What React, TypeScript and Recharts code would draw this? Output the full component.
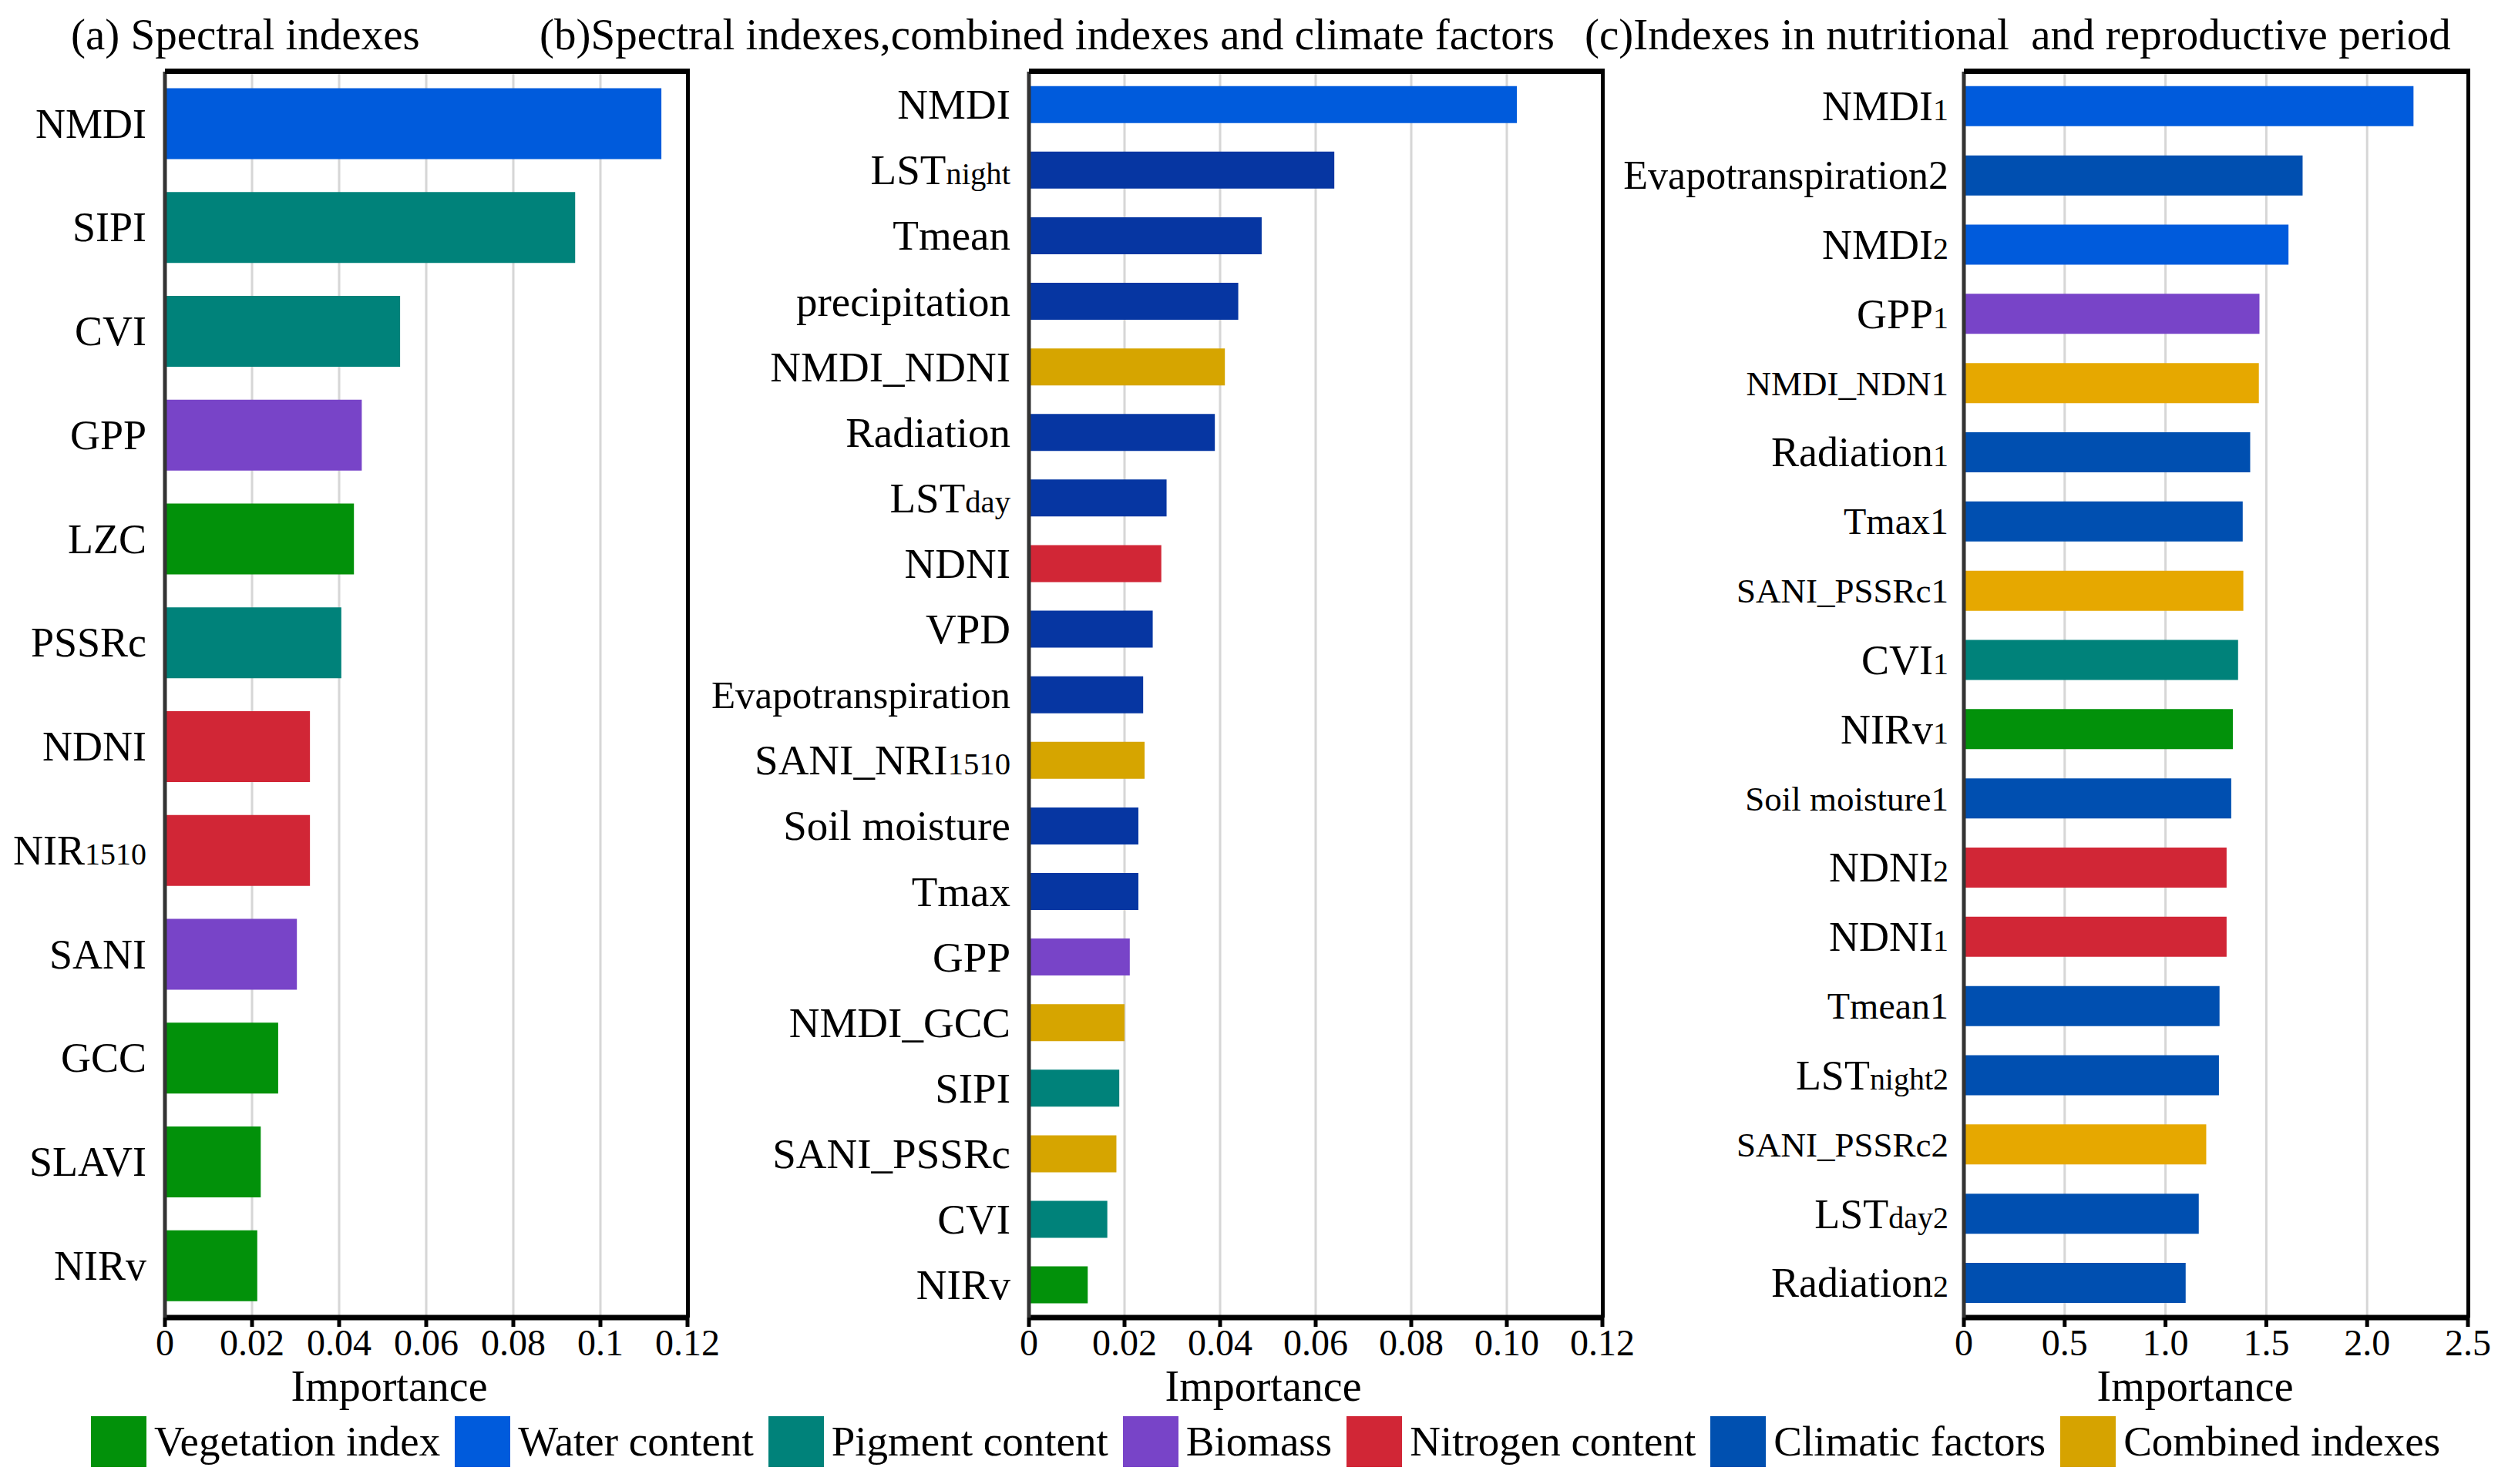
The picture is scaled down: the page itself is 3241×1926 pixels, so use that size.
import { BarChart, Bar, XAxis, YAxis, CartesianGrid, Cell } from 'recharts';

// "|" marks the part of a label that is drawn smaller (subscript style)
const aLabels = ['NMDI', 'SIPI', 'CVI', 'GPP', 'LZC', 'PSSRc', 'NDNI', 'NIR|1510', 'SANI', 'GCC', 'SLAVI', 'NIRv'];
const aValues = [0.114, 0.0942, 0.054, 0.0452, 0.0434, 0.0405, 0.0333, 0.0333, 0.0303, 0.026, 0.022, 0.0212];
const aGroups = ['water', 'pigment', 'pigment', 'biomass', 'veg', 'pigment', 'nitrogen', 'nitrogen', 'biomass', 'veg', 'veg', 'veg'];

const bLabels = [
    'NMDI', 'LST|night', 'Tmean', 'precipitation', 'NMDI_NDNI', 'Radiation', 'LST|day', 'NDNI', 'VPD',
    'Evapotranspiration', 'SANI_NRI|1510', 'Soil moisture', 'Tmax', 'GPP', 'NMDI_GCC', 'SIPI', 'SANI_PSSRc', 'CVI', 'NIRv',
];
const bValues = [0.1021, 0.0639, 0.0487, 0.0438, 0.041, 0.0389, 0.0288, 0.0277, 0.0259, 0.0239, 0.0242, 0.0229, 0.0229, 0.0211, 0.02, 0.0189, 0.0183, 0.0164, 0.0123];
const bGroups = [
    'water', 'climate', 'climate', 'climate', 'combined', 'climate', 'climate', 'nitrogen', 'climate',
    'climate', 'combined', 'climate', 'climate', 'biomass', 'combined', 'pigment', 'combined', 'pigment', 'veg',
];

const cLabels = [
    'NMDI|1', 'Evapotranspiration2', 'NMDI|2', 'GPP|1', 'NMDI_NDN1', 'Radiation|1', 'Tmax1', 'SANI_PSSRc1', 'CVI|1',
    'NIRv|1', 'Soil moisture1', 'NDNI|2', 'NDNI|1', 'Tmean1', 'LST|night2', 'SANI_PSSRc2', 'LST|day2', 'Radiation|2',
];
const cValues = [2.23, 1.68, 1.61, 1.466, 1.463, 1.42, 1.383, 1.386, 1.36, 1.334, 1.326, 1.303, 1.303, 1.268, 1.265, 1.202, 1.165, 1.1];
const cGroups = [
    'water', 'climate', 'water', 'biomass', 'combined', 'climate', 'climate', 'combined', 'pigment',
    'veg', 'climate', 'nitrogen', 'nitrogen', 'climate', 'climate', 'combined', 'climate', 'climate',
];

const ticksSmall = [0, 0.02, 0.04, 0.06, 0.08, 0.1, 0.12];
const ticksLarge = [0, 0.5, 1.0, 1.5, 2.0, 2.5];

const legendKeys = ['veg', 'water', 'pigment', 'biomass', 'nitrogen', 'climate', 'combined'];
const legendLabels = ['Vegetation index', 'Water content', 'Pigment content', 'Biomass', 'Nitrogen content', 'Climatic factors', 'Combined indexes'];

const COLORS: Record<string, string> = {
    veg: '#02910A',
    water: '#005BDC',
    pigment: '#00827A',
    biomass: '#7844C8',
    nitrogen: '#D12636',
    climate: '#0050B0',
    combined: '#D6A300',
};

const FONT = '"Liberation Serif", "Times New Roman", serif';

const toRows = (labels: string[], values: number[], groups: string[]) =>
    labels.map((name, i) => ({ name, value: values[i], group: groups[i] }));

const CategoryTick = (props: any) => {
    const { x, y, payload, fontSize, sizes, gap } = props;
    const raw = String(payload.value);
    const [base, sub] = raw.split('|');
    const fs = sizes[raw] ?? fontSize;
    return (
        <text x={x - gap} y={y} dy={fs * 0.34} textAnchor="end" fontFamily={FONT} fontSize={fs} fill="#000">
            {base}
            {sub ? <tspan fontSize={fs * 0.74}>{sub}</tspan> : null}
        </text>
    );
};

type PanelProps = {
    left: number;
    width: number;
    yWidth: number;
    rows: { name: string; value: number; group: string }[];
    ticks: number[];
    fmt: (v: number) => string;
    labelSize: number;
    sizes: Record<string, number>;
    gap: number;
    barGap: string;
    labelShift: number;
    palette: Record<string, string>;
};

const H = 1926;
const TOP = 93;
const BOTTOM = 96;
const XH = 120;
const RIGHT = 50;

const Panel = ({ left, width, yWidth, rows, ticks, fmt, labelSize, sizes, gap, barGap, labelShift, palette }: PanelProps) => {
    const plotW = width - yWidth - RIGHT;
    const plotH = H - TOP - BOTTOM - XH;
    return (
        <div style={{ position: 'absolute', left, top: 0, width, height: H }}>
            <BarChart
                width={width}
                height={H}
                data={rows}
                layout="vertical"
                margin={{ top: TOP, right: RIGHT, bottom: BOTTOM, left: 0 }}
                barCategoryGap={barGap}
            >
                <CartesianGrid horizontal={false} stroke="#d6d6d6" strokeWidth={3} />
                <XAxis
                    type="number"
                    domain={[ticks[0], ticks[ticks.length - 1]]}
                    ticks={ticks}
                    interval={0}
                    tickFormatter={fmt}
                    height={XH}
                    axisLine={{ stroke: '#000', strokeWidth: 7 }}
                    tickLine={{ stroke: '#000', strokeWidth: 5 }}
                    tickSize={12}
                    tickMargin={3}
                    tick={{ fill: '#000', fontSize: 48, fontFamily: FONT }}
                    label={{
                        content: ({ viewBox }: any) => (
                            <text
                                x={viewBox.x + viewBox.width / 2 + labelShift}
                                y={viewBox.y + 108}
                                textAnchor="middle"
                                fontFamily={FONT}
                                fontSize={56}
                                fill="#000"
                            >
                                Importance
                            </text>
                        ),
                    }}
                />
                <YAxis
                    type="category"
                    dataKey="name"
                    width={yWidth}
                    interval={0}
                    axisLine={{ stroke: '#333', strokeWidth: 5 }}
                    tickLine={false}
                    tickSize={0}
                    tickMargin={0}
                    tick={(p: any) => <CategoryTick {...p} fontSize={labelSize} sizes={sizes} gap={gap} />}
                />
                <Bar dataKey="value" isAnimationActive={false}>
                    {rows.map((r) => (
                        <Cell key={r.name} fill={palette[r.group]} />
                    ))}
                </Bar>
            </BarChart>
            <div
                style={{
                    position: 'absolute',
                    left: yWidth,
                    top: TOP - 4,
                    width: plotW + 3,
                    height: plotH + 4,
                    borderTop: '7px solid #000',
                    borderRight: '5px solid #000',
                    boxSizing: 'border-box',
                    pointerEvents: 'none',
                }}
            />
        </div>
    );
};

const App = () => {
    const paletteB = { ...COLORS, climate: '#0636A2', combined: '#D6A500' };
    const paletteC = { ...COLORS, climate: '#004FB0', combined: '#E6A800' };
    const titleStyle = { position: 'absolute' as const, top: 10, fontFamily: FONT, fontSize: 57, whiteSpace: 'pre' as const, color: '#000', lineHeight: '70px' };
    return (
        <div style={{ position: 'absolute', left: 0, top: 0, width: 3241, height: H, background: '#fff', overflow: 'hidden' }}>
            <div style={{ ...titleStyle, left: 92 }}>(a) Spectral indexes</div>
            <div style={{ ...titleStyle, left: 700 }}>(b)Spectral indexes,combined indexes and climate factors</div>
            <div style={{ ...titleStyle, left: 2056 }}>(c)Indexes in nutritional  and reproductive period</div>

            <Panel
                left={0}
                width={942}
                yWidth={214}
                rows={toRows(aLabels, aValues, aGroups)}
                ticks={ticksSmall}
                fmt={(v) => String(v)}
                labelSize={54}
                sizes={{}}
                gap={24}
                barGap="16%"
                labelShift={-48}
                palette={COLORS}
            />
            <Panel
                left={905}
                width={1224}
                yWidth={430}
                rows={toRows(bLabels, bValues, bGroups)}
                ticks={ticksSmall}
                fmt={(v) => (v === 0 ? '0' : v.toFixed(2))}
                labelSize={55}
                sizes={{ Evapotranspiration: 51 }}
                gap={24}
                barGap="22%"
                labelShift={-68}
                palette={paletteB}
            />
            <Panel
                left={2090}
                width={1162}
                yWidth={458}
                rows={toRows(cLabels, cValues, cGroups)}
                ticks={ticksLarge}
                fmt={(v) => (v === 0 ? '0' : v.toFixed(1))}
                labelSize={54}
                sizes={{ Evapotranspiration2: 52, NMDI_NDN1: 45, SANI_PSSRc1: 45, 'Soil moisture1': 45, SANI_PSSRc2: 45, Tmax1: 48, Tmean1: 48 }}
                gap={20}
                barGap="21%"
                labelShift={-27}
                palette={paletteC}
            />

            <div style={{ position: 'absolute', left: 118, top: 1838, display: 'flex', alignItems: 'center', fontFamily: FONT, fontSize: 55, color: '#000' }}>
                {legendKeys.map((k, i) => (
                    <div key={k} style={{ display: 'flex', alignItems: 'center', marginRight: 19 }}>
                        <div style={{ width: 72, height: 66, background: COLORS[k], marginRight: 10 }} />
                        <span style={{ whiteSpace: 'nowrap', lineHeight: '66px' }}>{legendLabels[i]}</span>
                    </div>
                ))}
            </div>
        </div>
    );
};

export default App;
